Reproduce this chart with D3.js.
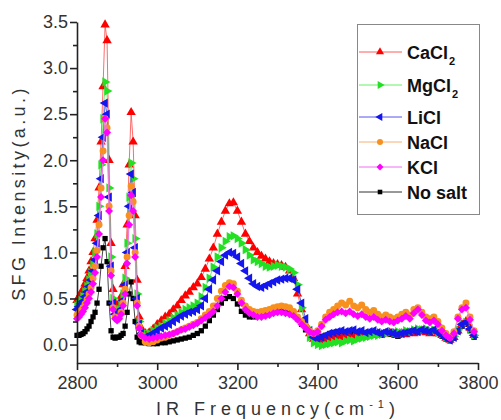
<!DOCTYPE html>
<html><head><meta charset="utf-8">
<script src="https://cdn.jsdelivr.net/npm/d3@7"></script>
<style>body{margin:0;background:#fff}svg{display:block}</style>
</head><body><div id="chart"></div>
<script>
// IR frequency (cm^-1): 5 cm^-1 steps over the C-H peaks, 10 cm^-1 steps after
const freq = [
 2800,2805,2810,2815,2820,2825,2830,2835,2840,2845,2850,2855,2860,2865,2870,2875,2880,2885,2890,2895,
 2900,2905,2910,2915,2920,2925,2930,2935,2940,2945,2950,2955,2960,
 2970,2980,2990,3000,3010,3020,3030,3040,3050,3060,
 3070,3080,3090,3100,3110,3120,3130,3140,3150,3160,
 3170,3180,3190,3200,3210,3220,3230,3240,3250,3260,
 3270,3280,3290,3300,3310,3320,3330,3340,3350,3360,
 3370,3380,3390,3400,3410,3420,3430,3440,3450,3460,
 3470,3480,3490,3500,3510,3520,3530,3540,3550,3560,
 3570,3580,3590,3600,3610,3620,3630,3640,3650,3660,
 3670,3680,3690,3700,3710,3720,3730,3740,3750,3760,
 3770,3780,3790];

const caCl2 = [
 0.48,0.52,0.56,0.6,0.66,0.72,0.8,0.9,1.0,1.15,1.35,1.7,2.2,2.8,3.47,3.3,2.0,1.1,0.6,0.45,
 0.42,0.45,0.52,0.65,0.85,1.3,1.95,2.52,2.2,1.4,0.7,0.3,0.18,
 0.12,0.13,0.17,0.22,0.26,0.3,0.33,0.38,0.42,0.48,
 0.53,0.57,0.62,0.66,0.73,0.82,0.93,1.05,1.2,1.33,
 1.45,1.53,1.54,1.45,1.33,1.2,1.12,1.05,1.0,0.96,
 0.93,0.9,0.88,0.87,0.86,0.84,0.8,0.72,0.55,0.38,
 0.22,0.12,0.06,0.04,0.04,0.05,0.06,0.07,0.08,0.08,
 0.09,0.1,0.08,0.1,0.09,0.1,0.11,0.1,0.12,0.11,
 0.12,0.13,0.12,0.1,0.12,0.11,0.13,0.12,0.14,0.15,
 0.13,0.12,0.14,0.12,0.1,0.07,0.05,0.08,0.15,0.22,
 0.25,0.18,0.1];

const mgCl2 = [
 0.42,0.45,0.48,0.52,0.57,0.63,0.7,0.78,0.88,1.0,1.2,1.5,1.95,2.45,2.85,2.75,1.7,0.95,0.5,0.38,
 0.35,0.38,0.44,0.55,0.72,1.1,1.6,1.97,1.8,1.15,0.55,0.25,0.15,
 0.1,0.12,0.15,0.18,0.2,0.23,0.26,0.29,0.32,0.35,
 0.38,0.4,0.42,0.45,0.52,0.62,0.72,0.84,0.95,1.05,
 1.12,1.17,1.18,1.15,1.1,1.03,0.97,0.92,0.9,0.88,
 0.85,0.84,0.85,0.86,0.85,0.84,0.82,0.78,0.65,0.4,
 0.2,0.08,0.02,0.0,-0.01,0.0,0.01,0.02,0.03,0.02,
 0.04,0.05,0.04,0.06,0.07,0.08,0.09,0.1,0.1,0.11,
 0.12,0.13,0.12,0.14,0.13,0.15,0.14,0.16,0.17,0.16,
 0.17,0.15,0.16,0.13,0.11,0.08,0.06,0.09,0.16,0.22,
 0.24,0.17,0.1];

const liCl = [
 0.38,0.41,0.44,0.47,0.52,0.57,0.63,0.7,0.8,0.92,1.1,1.4,1.8,2.25,2.62,2.5,1.6,0.85,0.45,0.33,
 0.3,0.33,0.38,0.48,0.65,1.0,1.5,1.85,1.65,1.05,0.5,0.22,0.12,
 0.08,0.1,0.12,0.15,0.18,0.2,0.22,0.25,0.28,0.31,
 0.33,0.35,0.36,0.38,0.42,0.5,0.6,0.7,0.8,0.9,
 0.97,1.0,0.99,0.95,0.88,0.8,0.72,0.66,0.63,0.62,
 0.64,0.66,0.68,0.7,0.71,0.72,0.72,0.7,0.6,0.45,
 0.28,0.15,0.08,0.07,0.08,0.1,0.12,0.13,0.14,0.15,
 0.14,0.15,0.16,0.14,0.15,0.13,0.14,0.15,0.13,0.12,
 0.14,0.13,0.12,0.11,0.12,0.13,0.14,0.15,0.14,0.16,
 0.15,0.14,0.16,0.13,0.1,0.07,0.05,0.08,0.15,0.22,
 0.24,0.17,0.1];

const naCl = [
 0.32,0.34,0.37,0.4,0.44,0.49,0.55,0.62,0.72,0.85,1.02,1.3,1.7,2.1,2.45,2.35,1.5,0.8,0.4,0.3,
 0.28,0.3,0.35,0.45,0.6,0.95,1.4,1.72,1.55,1.0,0.45,0.2,0.1,
 0.03,0.02,0.03,0.05,0.07,0.08,0.1,0.12,0.14,0.16,
 0.18,0.2,0.22,0.24,0.28,0.32,0.36,0.42,0.5,0.58,
 0.64,0.67,0.66,0.58,0.48,0.42,0.38,0.36,0.35,0.36,
 0.37,0.38,0.4,0.41,0.42,0.41,0.4,0.36,0.3,0.25,
 0.2,0.15,0.12,0.15,0.22,0.3,0.35,0.38,0.42,0.45,
 0.43,0.47,0.42,0.4,0.43,0.38,0.35,0.37,0.33,0.3,
 0.32,0.3,0.28,0.3,0.33,0.35,0.32,0.38,0.4,0.35,
 0.3,0.28,0.3,0.25,0.18,0.12,0.08,0.14,0.3,0.4,
 0.45,0.3,0.15];

const kCl = [
 0.28,0.3,0.33,0.36,0.4,0.45,0.5,0.57,0.66,0.78,0.95,1.2,1.6,2.0,2.45,2.3,1.45,0.75,0.38,0.28,
 0.26,0.28,0.33,0.42,0.55,0.88,1.3,1.62,1.45,0.95,0.42,0.18,0.1,
 0.07,0.06,0.07,0.08,0.09,0.1,0.11,0.12,0.14,0.16,
 0.17,0.19,0.21,0.23,0.26,0.29,0.32,0.36,0.42,0.5,
 0.57,0.63,0.62,0.55,0.45,0.38,0.34,0.32,0.3,0.3,
 0.31,0.32,0.34,0.35,0.35,0.34,0.33,0.31,0.27,0.22,
 0.18,0.14,0.12,0.14,0.2,0.27,0.3,0.33,0.35,0.36,
 0.34,0.36,0.33,0.31,0.33,0.3,0.28,0.3,0.27,0.25,
 0.27,0.25,0.24,0.26,0.28,0.31,0.28,0.34,0.38,0.32,
 0.26,0.24,0.26,0.22,0.15,0.1,0.07,0.12,0.28,0.38,
 0.4,0.27,0.14];

const noSalt = [
 0.1,0.1,0.11,0.12,0.14,0.17,0.2,0.25,0.3,0.35,0.45,0.6,0.85,1.05,1.15,0.9,0.45,0.15,0.08,0.07,
 0.08,0.08,0.1,0.12,0.2,0.35,0.55,0.68,0.5,0.25,0.08,0.03,0.02,
 0.02,0.01,0.01,0.01,0.02,0.02,0.03,0.04,0.05,0.06,
 0.07,0.08,0.1,0.12,0.15,0.2,0.26,0.32,0.38,0.45,
 0.5,0.52,0.5,0.44,0.36,0.32,0.3,0.3,0.31,0.32,
 0.33,0.35,0.36,0.38,0.38,0.37,0.35,0.32,0.28,0.22,
 0.16,0.12,0.1,0.08,0.09,0.1,0.12,0.13,0.14,0.14,
 0.13,0.14,0.13,0.12,0.13,0.11,0.12,0.13,0.11,0.1,
 0.12,0.11,0.1,0.09,0.11,0.12,0.13,0.14,0.13,0.15,
 0.14,0.13,0.15,0.12,0.09,0.06,0.04,0.07,0.14,0.2,
 0.22,0.15,0.08];

const seriesNames = ["CaCl2","MgCl2","LiCl","NaCl","KCl","No salt"];
const xTicks = [2800,3000,3200,3400,3600,3800];
const xMinor = [2900,3100,3300,3500,3700];
const yTicks = [0,0.5,1.0,1.5,2.0,2.5,3.0,3.5];
const yMinor = [0.25,0.75,1.25,1.75,2.25,2.75,3.25];

const series = [
 {name:"CaCl2", base:"CaCl", sub:"2", values:caCl2, color:"#ff0000", line:"#ff5a5a", shape:"up"},
 {name:"MgCl2", base:"MgCl", sub:"2", values:mgCl2, color:"#22e022", line:"#66ee66", shape:"right"},
 {name:"LiCl", base:"LiCl", sub:"", values:liCl, color:"#1515ee", line:"#5555ee", shape:"left"},
 {name:"NaCl", base:"NaCl", sub:"", values:naCl, color:"#f7901e", line:"#f5b070", shape:"circle"},
 {name:"KCl", base:"KCl", sub:"", values:kCl, color:"#ff00ff", line:"#f070f0", shape:"diamond"},
 {name:"No salt", base:"No salt", sub:"", values:noSalt, color:"#000000", line:"#333333", shape:"square"}
];

const W = 501, H = 420;
const svg = d3.select("#chart").append("svg").attr("width", W).attr("height", H)
  .style("font-family", "Arial, 'Liberation Sans', sans-serif");

const x = d3.scaleLinear().domain([2800, 3800]).range([77, 478]);
const y = d3.scaleLinear().domain([-0.2, 3.5]).range([363, 22]);

function symPath(shape, k) {
  k = k || 1;
  if (shape === "circle") return d3.symbol(d3.symbolCircle, 38 * k)();
  if (shape === "square") return d3.symbol(d3.symbolSquare, 28 * k)();
  if (shape === "diamond") return d3.symbol(d3.symbolSquare, 32 * k)();
  return d3.symbol(d3.symbolTriangle, 38 * k)();
}
function symRot(shape) {
  if (shape === "right") return 90;
  if (shape === "left") return -90;
  if (shape === "diamond") return 45;
  return 0;
}

// data
const drawOrder = [5, 0, 1, 2, 3, 4];
const plot = svg.append("g");
drawOrder.forEach(i => {
  const s = series[i];
  const pts = freq.map((f, k) => [f, s.values[k]]);
  plot.append("path")
    .attr("d", d3.line().x(d => x(d[0])).y(d => y(d[1]))(pts))
    .attr("fill", "none").attr("stroke", s.line).attr("stroke-width", 0.9);
  const p = symPath(s.shape), r = symRot(s.shape);
  plot.append("g").selectAll("path").data(pts).join("path")
    .attr("d", p)
    .attr("transform", d => `translate(${x(d[0])},${y(d[1])}) rotate(${r})`)
    .attr("fill", s.color);
});

// axes
const axisColor = "#222";
svg.append("g").attr("transform", "translate(0,363)")
  .call(d3.axisBottom(x).tickValues(xTicks).tickFormat(d3.format("d")).tickSize(7).tickSizeOuter(0).tickPadding(6));
svg.append("g").attr("transform", "translate(0,363)")
  .call(d3.axisBottom(x).tickValues(xMinor).tickFormat("").tickSize(4).tickSizeOuter(0))
  .select(".domain").remove();
svg.append("g").attr("transform", "translate(77,0)")
  .call(d3.axisLeft(y).tickValues(yTicks).tickFormat(d3.format(".1f")).tickSize(7).tickSizeOuter(0).tickPadding(2));
svg.append("g").attr("transform", "translate(77,0)")
  .call(d3.axisLeft(y).tickValues(yMinor).tickFormat("").tickSize(4).tickSizeOuter(0))
  .select(".domain").remove();
svg.selectAll(".domain, .tick line").attr("stroke", axisColor).attr("stroke-width", 1.6);
svg.selectAll(".tick text").attr("font-size", 18).attr("fill", "#333")
  .style("font-family", "Arial, 'Liberation Sans', sans-serif");

// axis titles
const xt = svg.append("text").attr("x", 278).attr("y", 415).attr("text-anchor", "middle")
  .attr("font-size", 18).attr("fill", "#333").style("letter-spacing", "5px");
xt.append("tspan").text("IR Frequency(cm");
xt.append("tspan").attr("dy", -7).attr("font-size", 11).text("-1");
xt.append("tspan").attr("dy", 7).text(")");

svg.append("text").attr("transform", "translate(25,193) rotate(-90)")
  .attr("text-anchor", "middle").attr("font-size", 18).attr("fill", "#333")
  .style("letter-spacing", "3.4px").text("SFG Intensity(a.u.)");

// legend
const lg = svg.append("g");
lg.append("rect").attr("x", 357.5).attr("y", 24.5).attr("width", 122).attr("height", 190)
  .attr("fill", "#fff").attr("stroke", "#888").attr("stroke-width", 1);
const ly = [52, 85, 117, 142, 167, 192];
series.forEach((s, i) => {
  const g = lg.append("g").attr("transform", `translate(0,${ly[i]})`);
  g.append("line").attr("x1", 359).attr("x2", 402).attr("y1", 0).attr("y2", 0)
    .attr("stroke", s.line).attr("stroke-width", 1);
  g.append("path").attr("d", symPath(s.shape, 0.75))
    .attr("transform", `translate(380,0) rotate(${symRot(s.shape)})`).attr("fill", s.color);
  const t = g.append("text").attr("x", 407).attr("y", 6.5).attr("font-size", 18)
    .attr("font-weight", "bold").attr("fill", "#111");
  t.append("tspan").text(s.base);
  if (s.sub) t.append("tspan").attr("dy", 6).attr("dx", 1).attr("font-size", 11).text(s.sub);
});
</script>
</body></html>
